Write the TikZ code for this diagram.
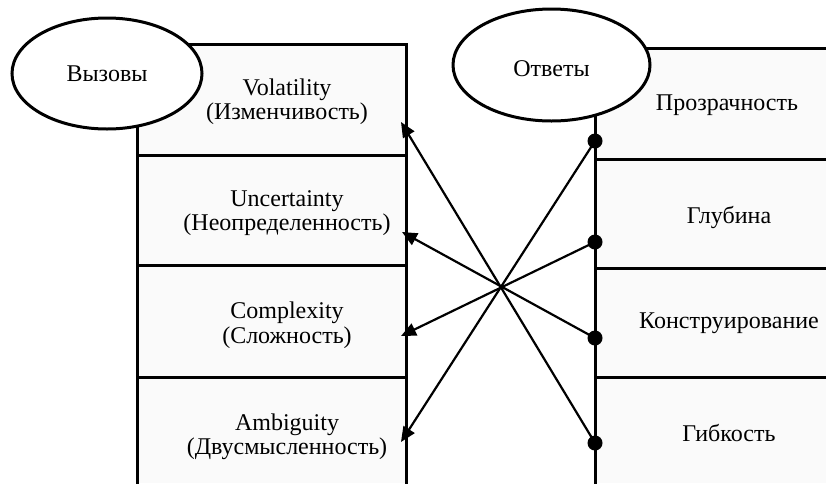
\documentclass[tikz,border=0pt]{standalone}
\usepackage{fontspec}
\setmainfont{Liberation Serif}
\usetikzlibrary{arrows.meta,shapes.geometric}
\begin{document}
\begin{tikzpicture}[x=1pt,y=-1pt,
  boxline/.style={line width=3pt},
  cellfill/.style={fill=black!2},
  oval/.style={ellipse, draw, line width=3pt, fill=white, inner sep=0pt,
    font=\fontsize{24}{25}\selectfont},
  lbl/.style={align=center, inner sep=0pt, font=\fontsize{24}{24.5}\selectfont},
  dot/.style={circle, fill=black, inner sep=0pt, minimum size=15pt},
  conn/.style={line width=2.2pt, -{Triangle[length=15pt,width=13pt]}}]
\useasboundingbox (0,0) rectangle (826,483);
\fill[white] (0,0) rectangle (826,483);
% left column
\fill[cellfill] (137,44) rectangle (406,483);
\draw[boxline] (137,485) -- (137,44) -- (406,44) -- (406,485);
\draw[boxline] (137,155) -- (406,155);
\draw[boxline] (137,265) -- (406,265);
\draw[boxline] (137,377) -- (406,377);
% right column
\fill[cellfill] (595,48) rectangle (826,483);
\draw[boxline] (595,485) -- (595,48) -- (828,48);
\draw[boxline] (595,159) -- (828,159);
\draw[boxline] (595,268) -- (828,268);
\draw[boxline] (595,377) -- (828,377);
% left texts
\node[lbl] (vol) at (287,101.5) {Volatility\\(Изменчивость)};
\node[lbl] (unc) at (287,213) {Uncertainty\\(Неопределенность)};
\node[lbl] (com) at (287,325) {Complexity\\(Сложность)};
\node[lbl] (amb) at (287,437) {Ambiguity\\(Двусмысленность)};
% right texts
\node[lbl] (tr) at (727,105) {Прозрачность};
\node[lbl] (de) at (729,217) {Глубина};
\node[lbl] (co) at (729,323) {Конструирование};
\node[lbl] (fl) at (729,433) {Гибкость};
% arrow ends
\coordinate (t1) at (401,122);
\coordinate (t2) at (402,232);
\coordinate (t3) at (401,336);
\coordinate (t4) at (401,442);
% dots
\node[dot] (d1) at (595,141) {};
\node[dot] (d2) at (595,242) {};
\node[dot] (d3) at (595,338) {};
\node[dot] (d4) at (595,443) {};
% connectors
\draw[conn] (d1.center) -- (t4);
\draw[conn] (d2.center) -- (t3);
\draw[conn] (d3.center) -- (t2);
\draw[conn] (d4.center) -- (t1);
% ellipses
\node[oval, minimum width=190pt, minimum height=111pt] (ch) at (107,73.5) {Вызовы};
\node[oval, minimum width=197pt, minimum height=112pt] (an) at (551.5,65) {\raisebox{-11pt}[0pt][0pt]{Ответы}};
\end{tikzpicture}
\end{document}
